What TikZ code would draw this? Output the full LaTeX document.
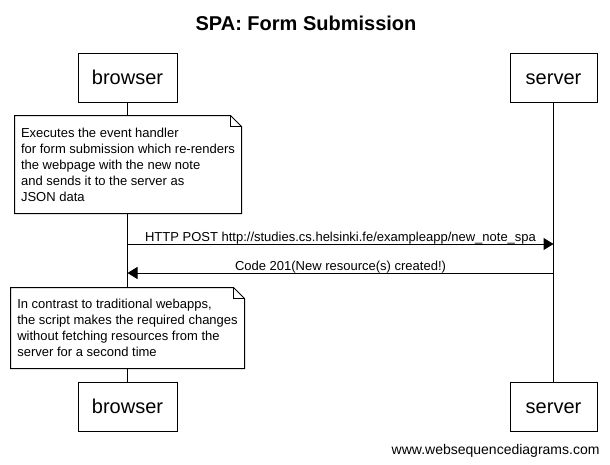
\documentclass[tikz,border=0pt]{standalone}
\usepackage{fontspec}
\setmainfont{Liberation Sans}
\usepackage{tikz}
\usetikzlibrary{arrows.meta}
\usetikzlibrary{positioning}

\begin{document}
\begin{tikzpicture}[
		x=1pt,
		y=-1pt,
		line width=1pt,
		msg/.style={-{Triangle[length=10pt,width=12pt]}},
		actor node/.style={
			draw,
			fill=white,
			font=\fontsize{20}{24}\selectfont,
			minimum height=49pt,
			inner xsep=0pt,
			text height=14.3pt,
			text depth=0pt
		},
		note node/.style={
			fill=white,
			inner sep=0pt,
			align=left,
			font=\fontsize{13}{16}\selectfont
		},
		msg label/.style={
			font=\fontsize{13}{16}\selectfont,
			anchor=base,
			yshift=3pt
		}
		]
		\useasboundingbox (0,0) rectangle (610,464);
		
		\node[font=\bfseries\fontsize{20}{24}\selectfont, anchor=base] (title) at (306,30) {SPA: Form Submission};
		
		\node[actor node, minimum width=99pt] (b1) at (127.5,77.5) {browser};
		\node[actor node, minimum width=87pt] (s1) [right=332pt of b1] {server};
		\node[actor node, minimum width=99pt] (b2) [below=279pt of b1] {browser};
		\node[actor node, minimum width=87pt] (s2) [below=279pt of s1] {server};
		
		\path
		(b1) edge (b2)
		(s1) edge (s2);
		
		% first note
		\node[note node, minimum width=226pt, minimum height=97pt] (n1) at (128,164.5) {Executes the event handler\\for form submission which re-renders\\the webpage with the new note\\and sends it to the server as\\JSON data};
		\draw (n1.south west) -- (n1.north west) -- ([xshift=-11pt]n1.north east) -- ([yshift=-11pt]n1.north east) -- (n1.south east) -- cycle;
		\draw ([xshift=-11pt]n1.north east) |- ([yshift=-11pt]n1.north east);
		
		\coordinate (m1) at (0,244);
		\coordinate (m2) at (0,273);
		\draw[msg] (b1 |- m1) -- node[msg label, midway] {HTTP POST http://studies.cs.helsinki.fe/exampleapp/new\_note\_spa} (s1 |- m1);
		\draw[msg] (s1 |- m2) -- node[msg label, midway] {Code 201(New resource(s) created!)} (b1 |- m2);
		
		% second note
		\node[note node, minimum width=233pt, minimum height=80pt] (n2) at (127.5,328) {In contrast to traditional webapps,\\the script makes the required changes\\without fetching resources from the\\server for a second time};
		\draw (n2.south west) -- (n2.north west) -- ([xshift=-11pt]n2.north east) -- ([yshift=-11pt]n2.north east) -- (n2.south east) -- cycle;
		\draw ([xshift=-11pt]n2.north east) |- ([yshift=-11pt]n2.north east);
		
		\node[font=\fontsize{14}{17}\selectfont, anchor=base east, inner sep=0pt] (site) at (600,454) {www.websequencediagrams.com};
	\end{tikzpicture}
\end{document}
